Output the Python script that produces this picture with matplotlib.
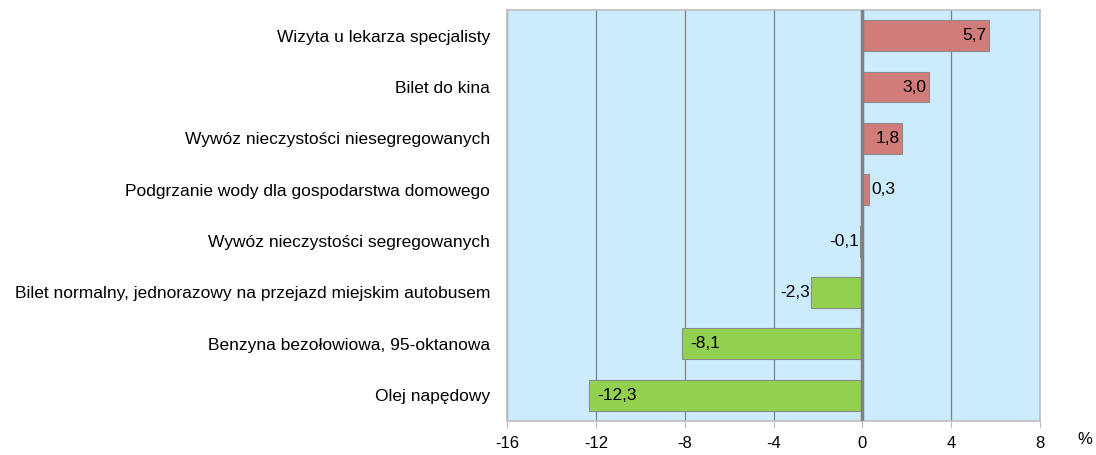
import matplotlib
matplotlib.use("Agg")
import matplotlib.pyplot as plt

categories = [
    "Wizyta u lekarza specjalisty",
    "Bilet do kina",
    "Wywóz nieczystości niesegregowanych",
    "Podgrzanie wody dla gospodarstwa domowego",
    "Wywóz nieczystości segregowanych",
    "Bilet normalny, jednorazowy na przejazd miejskim autobusem",
    "Benzyna bezołowiowa, 95-oktanowa",
    "Olej napędowy",
]
values = [5.7, 3.0, 1.8, 0.3, -0.1, -2.3, -8.1, -12.3]
xticks = [-16, -12, -8, -4, 0, 4, 8]

plt.rcParams['font.family'] = ['Liberation Sans', 'DejaVu Sans']

fig = plt.figure(figsize=(10.96, 4.55), dpi=100)
ax = fig.add_axes([0.4626, 0.075, 0.4864, 0.903])
ax.set_facecolor("#CCEBFC")

pos = list(range(len(categories)))
colors = ["#D07C78" if v >= 0 else "#92D050" for v in values]
ax.barh(pos, values, height=0.6, color=colors, edgecolor="#8C8C8C", linewidth=0.8, zorder=3)
ax.set_ylim(len(categories) - 0.5, -0.5)
ax.set_xlim(-16, 8)
ax.set_xticks(xticks)
ax.set_xticklabels([str(t) for t in xticks], fontsize=12)
ax.set_yticks(pos)
ax.set_yticklabels(categories, fontsize=12.5)
ax.tick_params(axis='y', length=0, pad=12)
ax.tick_params(axis='x', length=5, color="#BFBFBF", pad=6)
ax.xaxis.grid(True, color="#808080", linewidth=0.9, zorder=1)
ax.axvline(0, color="#808080", linewidth=2.5, zorder=4)
for s in ax.spines.values():
    s.set_color("#BFBFBF")
    s.set_linewidth(1.2)

for i, v in enumerate(values):
    lab = f"{v:.1f}".replace(".", ",")
    if v >= 1:
        ax.text(v - 0.1, i, lab, ha='right', va='center', fontsize=12.5, zorder=5)
    elif v >= 0:
        ax.text(v + 0.1, i, lab, ha='left', va='center', fontsize=12.5, zorder=5)
    elif v > -4:
        ax.text(v - 0.05, i, lab, ha='right', va='center', fontsize=12.5, zorder=5)
    else:
        ax.text(v + 0.35, i, lab, ha='left', va='center', fontsize=12.5, zorder=5)

fig.text(0.997, 0.033, "%", fontsize=12, ha='right', va='center')
fig.savefig("out.png", dpi=100)
